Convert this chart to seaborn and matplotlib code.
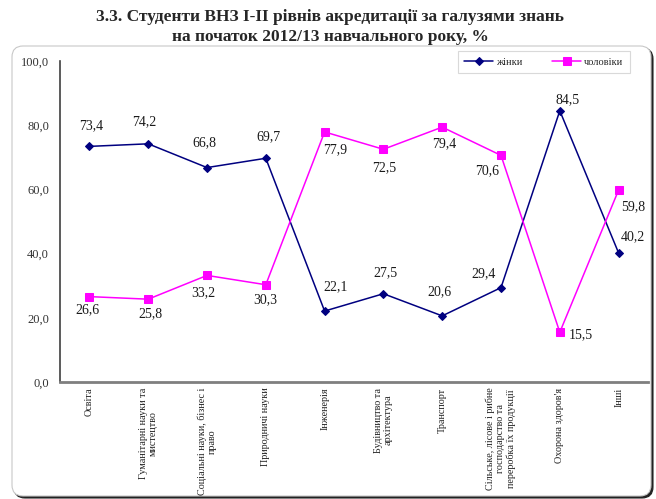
import numpy as np
import pandas as pd
import matplotlib
matplotlib.use("Agg")
import matplotlib.pyplot as plt
import seaborn as sns
from matplotlib.patches import FancyBboxPatch
from matplotlib.transforms import IdentityTransform
from matplotlib.ticker import FuncFormatter

categories = [
    "Освіта",
    "Гуманітарні науки та\nмистецтво",
    "Соціальні науки, бізнес і\nправо",
    "Природничі науки",
    "Інженерія",
    "Будівництво та\nархітектура",
    "Транспорт",
    "Сільське, лісове і рибне\nгосподарство та\nпереробка їх продукції",
    "Охорона здоров'я",
    "Інші",
]
women = [73.4, 74.2, 66.8, 69.7, 22.1, 27.5, 20.6, 29.4, 84.5, 40.2]
men = [26.6, 25.8, 33.2, 30.3, 77.9, 72.5, 79.4, 70.6, 15.5, 59.8]
y_ticks = [0, 20, 40, 60, 80, 100]

# where the value labels sit relative to the point (pixels, dx/dy)
women_off = [(2, 21), (-4, 22), (-3, 25), (3, 22), (11, 24), (2, 21), (-3, 24), (-17, 14), (8, 11), (14, 16)]
men_off = [(-2, -13), (2, -15), (-4, -17), (-1, -15), (11, -18), (1, -18), (2, -17), (-14, -15), (21, -2), (15, -17)]

sns.set_style("white")
plt.rcParams['font.family'] = ['Liberation Serif', 'DejaVu Serif']

df = pd.DataFrame({'pos': np.arange(len(categories)), 'жінки': women, 'чоловіки': men})

W, H = 656, 499
fig = plt.figure(figsize=(W / 100, H / 100), dpi=100)

# chart frame with shadow
shadow = FancyBboxPatch((14, 1), 639, 450, boxstyle="round,pad=0,rounding_size=11",
                        transform=IdentityTransform(), facecolor='#222222', edgecolor='#222222',
                        lw=0.8, zorder=-3)
frame = FancyBboxPatch((12, 3), 639, 450, boxstyle="round,pad=0,rounding_size=11",
                       transform=IdentityTransform(), facecolor='white', edgecolor='#c8c8c8',
                       lw=0.8, zorder=-2)
fig.add_artist(shadow)
fig.add_artist(frame)

fig.text(0.503, 1 - 27 / H, "3.3. Студенти ВНЗ I-II рівнів акредитації за галузями знань\n"
         "на початок 2012/13 навчального року, %", ha='center', va='center',
         fontsize=12.5, fontweight='bold', linespacing=1.3)

ax = fig.add_axes([60 / W, (H - 382) / H, (648 - 60) / W, (382 - 61) / H])
ax.set_facecolor('none')

sns.lineplot(data=df, x='pos', y='жінки', ax=ax, color='#000080', marker='D', markersize=4,
             markeredgecolor='#000080', linewidth=1.1, sort=False, label='жінки', errorbar=None)
sns.lineplot(data=df, x='pos', y='чоловіки', ax=ax, color='#ff00ff', marker='s', markersize=5.5,
             markeredgecolor='#ff00ff', linewidth=1.1, sort=False, label='чоловіки', errorbar=None)

for i, v in enumerate(women):
    ax.annotate(f"{v:.1f}".replace('.', ','), (i, v), xytext=women_off[i],
                textcoords='offset pixels', ha='center', va='center', fontsize=10, color='#1a1a1a')
for i, v in enumerate(men):
    ax.annotate(f"{v:.1f}".replace('.', ','), (i, v), xytext=men_off[i],
                textcoords='offset pixels', ha='center', va='center', fontsize=10, color='#1a1a1a')

ax.set_xlim(-0.5, len(categories) - 0.5)
ax.set_ylim(0, 100)
ax.set_yticks(y_ticks)
ax.yaxis.set_major_formatter(FuncFormatter(lambda v, p: f"{v:.1f}".replace('.', ',')))
ax.tick_params(axis='y', length=0, pad=8, labelsize=9, labelcolor='#333333')

ax.set_xticks(df['pos'], categories)
ax.set_xticks(np.arange(-0.5, len(categories), 1), minor=True)
ax.tick_params(axis='x', which='major', length=0, pad=4)
ax.tick_params(axis='x', which='minor', length=3, width=0.8, color='#bfbfbf', direction='out')
for lab in ax.get_xticklabels():
    lab.set_rotation(90)
    lab.set_va('top')
    lab.set_ha('center')
    lab.set_multialignment('center')
    lab.set_fontsize(7.3)
    lab.set_color('#222222')

ax.set_xlabel('')
ax.set_ylabel('')
sns.despine(ax=ax)
ax.spines['left'].set_color('#404040')
ax.spines['left'].set_linewidth(1.2)
ax.spines['bottom'].set_color('#7f7f7f')
ax.spines['bottom'].set_linewidth(2)

leg = ax.legend(ncol=2, loc='upper left', bbox_to_anchor=(458 / W, (H - 51) / H),
                bbox_transform=fig.transFigure, fontsize=7.5, frameon=True, fancybox=False,
                edgecolor='#d9d9d9', framealpha=1, handlelength=2.8, columnspacing=2.8,
                borderpad=0.6, handletextpad=0.3, borderaxespad=0)
leg.get_frame().set_linewidth(0.8)

fig.savefig("out.png", dpi=100)
